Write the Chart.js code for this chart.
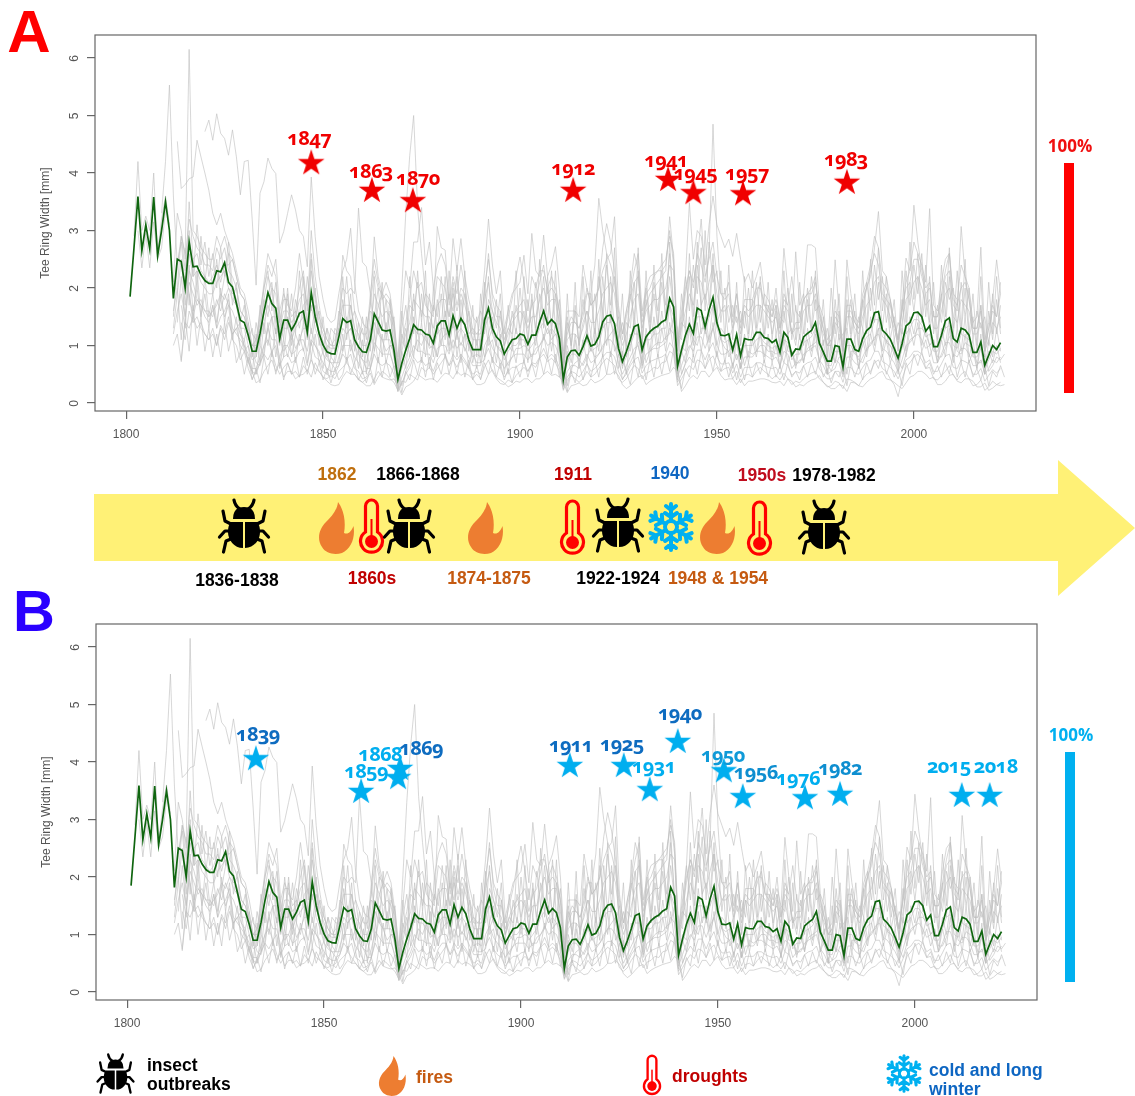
<!DOCTYPE html>
<html>
<head>
<meta charset="utf-8">
<title>Tree ring width</title>
<script src="https://cdn.jsdelivr.net/npm/chart.js@4"></script>
<style>
html, body { margin: 0; padding: 0; background: #fff; }
#page { position: relative; width: 1135px; height: 1096px; overflow: hidden; font-family: "Liberation Sans", Arial, sans-serif; }
canvas { position: absolute; }
.t { position: absolute; transform: translate(-50%, -50%); white-space: nowrap; font-weight: bold; font-size: 17.5px; }
.l { position: absolute; font-weight: bold; font-size: 17.5px; line-height: 19px; white-space: nowrap; }
.star-label { position: absolute; transform: translate(-50%, -50%); white-space: nowrap; font-family: "Open Sans", sans-serif; font-weight: 700; font-size: 20px; letter-spacing: -0.6px; font-feature-settings: "onum"; }
.pct { font-family: "Open Sans", sans-serif; font-size: 17px; }
svg.i { position: absolute; overflow: visible; }
</style>
</head>
<body>
<div id="page">
  <canvas id="chartA" width="1135" height="450" style="left:0;top:0"></canvas>
  <canvas id="chartB" width="1135" height="450" style="left:1px;top:589px"></canvas>

  <div class="t" style="left:29px;top:31px;font-size:60px;color:#ff0000">A</div>
  <div class="t" style="left:34px;top:610px;font-size:58px;color:#2a00ff">B</div>

  <svg class="i" style="left:0;top:0" width="1135" height="1096">
    <defs>
      <symbol id="bug" viewBox="0 0 50 56" overflow="visible">
        <g fill="none" stroke="#000" stroke-width="3.2" stroke-linecap="round" stroke-linejoin="round">
          <path d="M15 2 Q16 8 21 11"/><path d="M35 2 Q34 8 29 11"/>
          <path d="M12 26 L6 23 L4 13"/><path d="M38 26 L44 23 L46 13"/>
          <path d="M11 33 L6 33 L0.5 39"/><path d="M39 33 L44 33 L49.5 39"/>
          <path d="M12 41 L7 43 L4.5 54"/><path d="M38 41 L43 43 L45.5 54"/>
        </g>
        <path d="M14 21 Q14 9 25 9 Q36 9 36 21 Z" fill="#000"/>
        <path d="M12 24 H24 V50 C15 50 9 42 9 34 C9 29 10 26 12 24 Z" fill="#000"/>
        <path d="M38 24 H26 V50 C35 50 41 42 41 34 C41 29 40 26 38 24 Z" fill="#000"/>
      </symbol>
      <symbol id="fire" viewBox="0 0 36 52" overflow="visible">
        <path d="M20 0 C26 8 28 20 26 31 C30 33 33 30 35.5 24 C37.5 36 33 47 24 51 C17 53 8 52 4 45 C-2 36 2 26 8 20 C13 15 19 9 20 0 Z" fill="#ed7d31"/>
      </symbol>
      <symbol id="thermo" viewBox="0 0 25 56" overflow="visible">
        <path d="M6.5 7 a6 6 0 0 1 12 0 V33 a11 11 0 1 1 -12 0 Z" fill="none" stroke="#ff0000" stroke-width="3.2"/>
        <rect x="11.5" y="20" width="2" height="22" fill="#ff0000"/>
        <circle cx="12.5" cy="42.5" r="6.5" fill="#ff0000"/>
      </symbol>
      <symbol id="flake" viewBox="-22 -25 44 50" overflow="visible">
        <g fill="none" stroke="#00b0f0" stroke-width="4" stroke-linecap="round">
          <path id="a0" d="M0 -6 V-23 M0 -17 L-5 -21 M0 -17 L5 -21 M0 -10 L-6 -14 M0 -10 L6 -14"/>
          <use href="#a0" transform="rotate(60)"/><use href="#a0" transform="rotate(120)"/>
          <use href="#a0" transform="rotate(180)"/><use href="#a0" transform="rotate(240)"/>
          <use href="#a0" transform="rotate(300)"/>
          <circle r="6"/>
        </g>
      </symbol>
    </defs>
    <path d="M94 494 H1058 V460 L1135 528 L1058 596 V561 H94 Z" fill="#fff176"/>
    <use href="#bug" x="219" y="498" width="50" height="56"/>
    <use href="#fire" x="318" y="502" width="36" height="52"/>
    <use href="#thermo" x="359" y="499" width="25" height="56"/>
    <use href="#bug" x="384" y="498" width="50" height="56"/>
    <use href="#fire" x="467" y="502" width="36" height="52"/>
    <use href="#thermo" x="560" y="500" width="25" height="56"/>
    <use href="#bug" x="593" y="497" width="50" height="56"/>
    <use href="#flake" x="649" y="502" width="44" height="50"/>
    <use href="#fire" x="699" y="502" width="36" height="52"/>
    <use href="#thermo" x="747" y="501" width="25" height="56"/>
    <use href="#bug" x="799" y="499" width="50" height="56"/>
    <use href="#bug" x="97" y="1053" width="37" height="41"/>
    <use href="#fire" x="378" y="1056" width="28" height="40"/>
    <use href="#thermo" x="642" y="1055" width="20" height="41"/>
    <use href="#flake" x="887" y="1054" width="34" height="39"/>
  </svg>

  <div class="t" style="left:337px;top:474px;color:#bf6f0e">1862</div>
  <div class="t" style="left:418px;top:474px;color:#000">1866-1868</div>
  <div class="t" style="left:573px;top:474px;color:#c00000">1911</div>
  <div class="t" style="left:670px;top:473px;color:#0e66c2">1940</div>
  <div class="t" style="left:762px;top:475px;color:#c00d1e">1950s</div>
  <div class="t" style="left:834px;top:475px;color:#000">1978-1982</div>
  <div class="t" style="left:237px;top:580px;color:#000">1836-1838</div>
  <div class="t" style="left:372px;top:578px;color:#c00000">1860s</div>
  <div class="t" style="left:489px;top:578px;color:#c55a11">1874-1875</div>
  <div class="t" style="left:618px;top:578px;color:#000">1922-1924</div>
  <div class="t" style="left:718px;top:578px;color:#c55a11">1948 &amp; 1954</div>

  <div class="t pct" style="left:1070px;top:145px;color:#f01010">100%</div>
  <div style="position:absolute;left:1064px;top:163px;width:10px;height:230px;background:#ff0000"></div>
  <div class="t pct" style="left:1071px;top:734px;color:#00b0f0">100%</div>
  <div style="position:absolute;left:1065px;top:752px;width:10px;height:230px;background:#00b0f0"></div>

  <div class="l" style="left:147px;top:1056px;color:#000">insect<br>outbreaks</div>
  <div class="l" style="left:416px;top:1068px;color:#c55a11">fires</div>
  <div class="l" style="left:672px;top:1067px;color:#c00000">droughts</div>
  <div class="l" style="left:929px;top:1061px;color:#0e66c2">cold and long<br>winter</div>
</div>

<script>
// axis ticks
const xTicks = [1800, 1850, 1900, 1950, 2000];
const yTicks = [0, 1, 2, 3, 4, 5, 6];

// mean curve, one value per year from 1801
const meanStart = 1801;
const meanWidth = [
  1.85, 2.7, 3.59, 2.65, 3.1, 2.68, 3.58, 2.56, 3.0, 3.5,
  3.0, 1.82, 2.5, 2.46, 2.0, 2.8, 2.37, 2.38, 2.23, 2.13,
  2.08, 2.08, 2.3, 2.28, 2.44, 2.1, 2.02, 1.73, 1.44, 1.4,
  1.18, .9, .9, 1.21, 1.59, 1.92, 1.73, 1.65, 1.12, 1.44,
  1.44, 1.27, 1.39, 1.56, 1.6, 1.23, 1.92, 1.5, 1.21, 1.01,
  .89, .86, .85, 1.15, 1.47, 1.4, 1.43, 1.1, .98, .89,
  .88, 1.1, 1.55, 1.41, 1.27, 1.25, 1.27, .92, .41, .69,
  .92, 1.12, 1.36, 1.28, 1.27, 1.2, 1.18, 1.04, 1.34, 1.43,
  1.43, 1.18, 1.52, 1.3, 1.47, 1.36, 1.1, .93, .93, .93,
  1.44, 1.65, 1.3, 1.15, 1.08, .85, .98, 1.1, 1.12, 1.2,
  1.18, 1.02, 1.18, 1.18, 1.41, 1.6, 1.37, 1.45, 1.38, 1.12,
  .41, .8, .91, .92, .83, .98, 1.17, .99, 1.02, 1.15,
  1.41, 1.51, 1.53, 1.38, .95, .72, .89, 1.1, 1.33, 1.36,
  .92, 1.15, 1.24, 1.3, 1.34, 1.41, 1.45, 1.82, 1.67, .64,
  .92, 1.18, 1.37, 1.21, 1.65, 1.61, 1.32, 1.62, 1.84, 1.39,
  1.18, 1.17, 1.2, .92, 1.19, .82, 1.12, 1.1, 1.1, 1.23,
  1.23, 1.14, 1.12, 1.05, 1.1, .88, 1.23, 1.14, .83, .94,
  .93, 1.15, 1.21, 1.26, 1.4, 1.04, .89, .73, .73, 1.0,
  .98, .63, 1.11, 1.11, .93, .9, 1.12, 1.26, 1.32, 1.57,
  1.59, 1.27, 1.2, 1.11, .95, .78, 1.03, 1.34, 1.4, 1.57,
  1.58, 1.5, 1.25, 1.34, .98, .98, 1.18, 1.43, 1.48, 1.12,
  1.06, 1.3, 1.27, 1.18, .88, .88, 1.06, .66, .83, 1.0,
  .93, 1.05
];

// single trees, estimated from the grey lines: [first year, values]
const treeEarly1 = [1802, [
  2.9, 4.2, 3.0, 3.25, 3.0, 4.0, 2.6, 3.2, 3.6, 3.1]];
const treeEarly2 = [1803, [
  3.0, 2.35, 2.95, 2.35, 3.15, 2.5, 2.7, 3.35]];
const treeTall1 = [1809, [
  3.3, 4.2,
  5.53, 3.6, 2.4, 2.9, 2.6, 6.15, 3.0, 2.9, 2.7, 2.6,
  2.5, 2.5, 2.9, 2.7, 2.9, 2.6, 2.5, 2.2, 1.9, 1.8,
  1.4, 1.0, 1.0, 1.5, 2.1, 2.6, 2.4, 2.2, 1.4, 1.8,
  1.8, 1.5, 1.6, 2.0, 2.3, 1.6, 3.0, 2.2, 1.7, 1.3,
  1.1, 1.0, 1.0, 1.5, 2.0, 1.9, 2.0, 1.9, 3.39, 2.45,
  2.37, 1.9, 2.5, 2.1, 1.8, 1.9, 1.8, 1.3, .7, 2.0,
  3.3, 4.3, 5.0, 3.4, 2.6, 1.9, 1.8, 1.6, 2.2, 2.1,
  2.0, 1.5, 2.1, 1.7, 2.0, 1.9, 1.5, 1.2, 1.2, 1.2,
  1.9, 2.6, 1.8, 1.5, 1.5, 1.1, 1.3, 1.5, 1.6, 1.7,
  1.8, 1.4, 1.7, 1.8, 2.1, 2.4, 1.9, 2.0, 1.9, 1.6,
  .7, 1.2, 1.4, 1.4, 1.3, 1.5, 1.9, 1.9, 2.4, 3.56,
  3.0, 2.6, 2.4, 2.1, 1.5, 1.1, 1.5, 1.8, 2.1, 2.2,
  1.4, 1.7, 1.9, 2.0, 2.1, 2.2, 2.3, 3.24, 2.5, 1.0,
  1.4, 1.9, 2.3, 2.0, 2.6, 2.4, 2.1, 2.6, 4.85, 2.9,
  1.9, 1.9, 2.1, 1.5, 1.9, 1.3, 1.8, 1.8, 1.8, 2.0,
  2.0, 1.7, 1.7, 1.5, 1.7, 1.3, 1.8, 1.7, 1.2, 1.4,
  1.4, 1.8, 1.9, 1.9, 2.1, 1.6, 1.3, 1.0, 1.1, 1.5,
  1.4, .9, 1.6, 1.6, 1.4, 1.3, 1.8, 2.0, 2.2, 2.7,
  3.33, 2.3, 2.2, 1.8, 1.4, 1.1, 1.6, 2.1, 2.3, 3.44,
  2.8, 2.3, 2.0, 2.1, 1.5, 1.5, 1.9, 2.3, 2.6, 1.8,
  1.7, 2.0, 2.1, 1.8, 1.3, 1.3, 1.7, 1.0, 1.3, 1.7,
  1.5, 1.9]];
const treeTall2 = [1820, [
  4.72,
  4.92, 4.57, 5.03, 4.69, 4.6, 4.31, 4.75, 4.28, 3.62, 4.2,
  4.22, 3.2, 2.05, 3.65, 3.85, 4.26, 4.08, 3.99, 2.78, 2.98,
  3.3, 3.62, 3.36, 3.0, 2.9, 2.37, 3.93, 2.9, 2.2, 1.8,
  1.5, 1.4, 1.45, 1.9, 2.3, 2.5, 3.04, 2.1, 1.6, 1.4,
  1.3, 1.7, 2.3, 2.0, 1.9, 2.1, 1.9, 1.4, .8, 1.5,
  2.3, 2.0, 2.8, 2.8, 3.4, 2.4, 2.8, 2.0, 2.4, 2.6,
  2.4, 1.8, 2.86, 2.3, 2.86, 2.2, 1.8, 1.5, 1.4, 1.6,
  2.3, 3.2, 2.4, 1.9, 2.3, 1.3, 1.6, 1.9, 2.0, 2.1,
  2.57, 1.9, 2.95, 2.3, 2.2, 2.92, 2.2, 2.4, 2.72, 2.0,
  .9, 1.6, 1.6, 1.6, 1.5, 2.4, 2.0, 1.7, 1.8, 2.0,
  2.3, 2.5, 2.6, 3.24, 1.7, 1.2, 1.6, 1.9, 2.3, 2.6,
  1.6, 2.0, 2.2, 2.25, 2.3, 2.4, 2.5, 2.9, 2.6, 1.1,
  1.6, 2.2, 3.48, 2.5, 3.0, 2.9, 2.4, 3.1, 3.6, 3.1,
  2.9, 2.7, 2.85, 2.55, 2.95, 2.5, 2.1, 2.25, 2.0, 2.2,
  2.45, 1.9, 1.8, 1.6, 1.8, 1.5, 2.69, 2.0, 1.4, 2.63,
  1.7, 1.9, 2.75, 2.75, 2.7, 1.7, 1.5, 1.1, 1.2, 2.49,
  1.6, 1.0, 2.49, 1.9, 1.5, 1.4, 1.9, 2.1, 2.4, 2.9,
  2.7, 2.1, 2.0, 1.8, 1.4, 1.1, 1.7, 2.52, 2.3, 2.8,
  2.6, 2.4, 2.1, 3.38, 1.7, 1.6, 2.1, 2.5, 2.6, 1.9,
  1.8, 2.4, 2.2, 2.0, 1.4, 1.5, 2.71, 1.1, 1.4, 1.8,
  2.49, 1.9]];
const treeTall3 = [1813, [
  4.55, 3.73, 3.8, 3.9, 3.93, 4.57, 4.28, 4.0,
  3.7, 3.3, 3.1, 3.3, 3.0, 2.8, 2.6, 2.3, 2.0, 1.9,
  1.6, 1.2, 1.1, 1.6, 2.0, 2.4, 2.2, 2.5, 1.6, 1.9,
  1.7, 1.6, 2.0, 2.6, 2.1, 1.7, 2.6, 1.9, 1.5, 1.3,
  1.1, 1.0, 1.1, 1.4, 2.57, 2.3, 2.2, 1.6, 1.4, 1.2,
  1.2, 1.7, 2.89, 2.2, 1.9, 1.8, 1.7, 1.2, .6, 1.1,
  1.4, 1.8, 2.3, 2.0, 2.1, 1.7, 1.6, 1.5, 3.07, 2.7,
  2.66, 1.7, 2.2, 1.9, 2.4, 2.0, 1.6, 1.3, 1.2, 1.3,
  2.0, 2.5, 1.9, 1.7, 1.6, 1.2, 1.5, 1.8, 2.2, 2.54,
  2.1, 1.6, 2.2, 2.0, 2.3, 2.3, 2.0, 2.2, 2.0, 1.6,
  .7, 1.3, 1.5, 1.4, 1.3, 1.6, 2.0, 1.7, 1.8, 2.0,
  2.7, 3.12, 2.8, 2.3, 1.6, 1.2, 1.6, 2.0, 2.6, 2.3,
  1.5, 1.9, 2.0, 2.2, 2.3, 2.3, 2.4, 3.0, 2.4, 1.0,
  1.5, 2.0, 2.3, 2.1, 2.5, 3.2, 2.2, 2.5, 2.8, 2.2,
  1.9, 1.8, 1.9, 1.4, 1.9, 1.4, 1.7, 1.6, 1.7, 1.9,
  2.1, 1.7, 1.6, 1.5, 2.0, 1.3, 1.9, 1.7, 2.2, 1.6,
  1.5, 1.8, 1.9, 2.0, 2.2, 1.5, 1.3, 1.0, 1.1, 1.6,
  1.5, .9, 1.7, 1.7, 1.4, 1.3, 1.7, 2.0, 2.3, 2.6,
  2.4, 1.9, 1.8, 1.7, 1.4, 1.1, 1.6, 2.0, 2.1, 2.5,
  2.5, 2.2, 1.9, 2.0, 1.5, 1.5, 1.8, 2.2, 2.3, 1.7,
  1.6, 3.07, 2.2, 1.8, 1.3, 1.3, 1.6, .9, 1.3, 1.6,
  1.5, 2.1]];
const treeUpper1 = [1812, [
  2.1, 3.3, 3.0, 2.5, 3.2, 2.9, 2.7, 2.6, 2.4,
  2.4, 2.3, 2.7, 2.5, 2.7, 2.3, 2.2, 2.0, 1.6, 1.5,
  1.3, 1.0, .95, 1.4, 1.8, 2.2, 2.0, 1.9, 1.3, 1.6,
  1.6, 1.4, 1.5, 1.8, 1.9, 1.4, 2.3, 1.8, 1.4, 1.2,
  1.0, .95, .95, 1.3, 1.7, 1.7, 1.7, 1.3, 1.2, 1.0,
  1.0, 1.3, 1.9, 1.7, 1.5, 1.6, 1.5, 1.1, .5, .9,
  1.2, 1.4, 1.8, 1.7, 1.6, 1.5, 1.5, 1.3, 1.7, 1.8,
  1.8, 1.5, 1.9, 1.6, 1.9, 1.7, 1.4, 1.1, 1.1, 1.1,
  1.8, 2.1, 1.6, 1.4, 1.3, 1.0, 1.2, 1.4, 1.5, 1.6,
  1.5, 1.3, 1.5, 1.5, 1.8, 2.0, 1.7, 1.8, 1.8, 1.4,
  .6, 1.1, 1.2, 1.2, 1.1, 1.3, 1.6, 1.4, 1.4, 1.6,
  1.9, 2.0, 2.1, 1.9, 1.3, 1.0, 1.2, 1.5, 1.8, 1.9,
  1.3, 1.6, 1.7, 1.8, 1.8, 1.9, 2.0, 2.4, 2.3, .9,
  1.3, 1.6, 1.9, 1.7, 2.2, 2.1, 1.8, 2.1, 2.4, 1.9,
  1.6, 1.6, 1.7, 1.3, 1.7, 1.2, 1.6, 1.5, 1.6, 1.7,
  1.7, 1.6, 1.5, 1.4, 1.5, 1.2, 1.7, 1.6, 1.2, 1.3,
  1.3, 1.6, 1.7, 1.7, 1.9, 1.4, 1.2, 1.0, 1.0, 1.4,
  1.3, .9, 1.5, 1.5, 1.3, 1.2, 1.5, 1.7, 1.8, 2.1,
  2.2, 1.8, 1.7, 1.5, 1.3, 1.0, 1.4, 1.8, 1.9, 2.1,
  2.2, 2.0, 1.7, 1.8, 1.3, 1.3, 1.6, 1.9, 2.0, 1.5,
  1.4, 1.8, 1.7, 1.6, 1.2, 1.2, 1.4, .9, 1.1, 1.4,
  1.3, 1.5]];
const treeUpper2 = [1812, [
  1.5, 2.4, 2.8, 2.0, 3.5, 2.5, 2.6, 2.3, 2.2,
  2.1, 2.2, 2.4, 2.1, 2.4, 2.4, 2.5, 2.2, 1.9, 1.8,
  1.2, 1.0, 1.1, 1.3, 2.0, 2.3, 1.6, 2.1, 1.4, 1.3,
  2.0, 1.2, 1.8, 1.5, 2.2, 1.2, 2.5, 1.4, 1.6, 1.0,
  1.3, 1.1, .9, 1.6, 1.5, 2.2, 1.4, 1.6, 1.1, 1.3,
  .9, 1.6, 1.5, 2.0, 1.3, 1.8, 1.2, 1.5, .6, 1.2,
  .9, 1.7, 1.6, 2.1, 1.5, 1.9, 1.2, 1.7, 1.5, 2.2,
  1.5, 1.9, 1.6, 2.2, 1.4, 1.9, 1.2, 1.3, 1.0, 1.6,
  1.4, 2.2, 1.2, 1.8, 1.1, 1.3, 1.0, 1.6, 1.2, 2.0,
  1.3, 1.8, 1.3, 2.1, 1.5, 2.2, 1.4, 2.3, 1.3, 1.8,
  .7, 1.5, 1.0, 1.7, 1.0, 1.8, 1.3, 1.9, 1.2, 2.2,
  1.6, 2.4, 1.7, 2.2, 1.1, 1.4, 1.0, 1.9, 1.5, 2.3,
  1.1, 2.0, 1.4, 2.1, 1.6, 2.3, 1.7, 2.6, 1.7, 1.2,
  1.1, 2.2, 1.6, 2.4, 1.9, 2.7, 1.6, 2.8, 2.1, 2.3,
  1.4, 2.0, 1.4, 1.7, 1.4, 1.6, 1.3, 2.0, 1.3, 2.1,
  1.4, 1.9, 1.3, 1.8, 1.2, 1.5, 1.4, 2.0, 1.1, 1.7,
  1.1, 1.9, 1.4, 2.2, 1.6, 1.7, 1.0, 1.3, .9, 1.8,
  1.1, 1.2, 1.3, 1.8, 1.1, 1.5, 1.3, 2.1, 1.6, 2.4,
  1.8, 2.2, 1.4, 1.8, 1.1, 1.4, 1.2, 2.3, 1.7, 2.4,
  1.9, 2.6, 1.5, 2.2, 1.2, 1.7, 1.4, 2.1, 1.8, 2.0,
  1.3, 2.1, 1.5, 2.0, 1.1, 1.6, 1.3, 1.5, 1.0, 1.9,
  1.2, 1.7]];
const treeUpper3 = [1813, [
  2.0, 2.9, 2.3, 3.0, 2.2, 3.1, 2.4, 2.8,
  2.2, 2.6, 2.0, 2.7, 2.2, 2.8, 2.0, 1.8, 1.4, 1.7,
  1.1, 1.3, .8, 1.7, 1.2, 1.9, 2.1, 1.4, 1.1, 2.0,
  1.3, 1.9, 1.2, 2.3, 1.4, 2.2, 1.6, 2.0, 1.0, 1.5,
  .8, 1.3, 1.2, 1.2, 2.2, 1.3, 1.9, .9, 1.4, .8,
  1.5, .9, 2.2, 1.2, 2.1, 1.1, 1.6, 1.4, .5, 1.6,
  .9, 2.2, 1.2, 2.3, 1.4, 2.3, 1.0, 2.0, 1.2, 1.9,
  1.1, 2.3, 1.3, 2.4, 1.3, 2.3, .9, 1.7, .8, 1.9,
  1.2, 1.8, 1.6, 1.3, 1.9, .9, 1.7, 1.0, 2.3, 1.1,
  2.2, 1.0, 1.9, 1.2, 2.5, 1.3, 2.2, 1.2, 2.3, 1.1,
  .6, 1.9, .9, 2.1, .9, 2.2, 1.1, 2.3, 1.0, 2.5,
  1.3, 2.6, 1.4, 2.7, 1.0, 1.9, .8, 2.3, 1.2, 2.7,
  1.0, 2.3, 1.2, 2.4, 1.3, 2.6, 1.4, 2.8, 1.5, .9,
  1.9, 1.2, 2.6, 1.5, 2.8, 1.6, 3.0, 1.7, 2.6, 1.5,
  2.3, 1.1, 2.4, 1.1, 2.1, 1.0, 2.2, 1.2, 2.3, 1.3,
  2.2, 1.2, 2.1, 1.1, 1.7, 1.0, 2.3, 1.1, 1.9, 1.1,
  2.1, 1.2, 2.0, 1.3, 2.3, 1.1, 1.8, .8, 2.0, 1.2,
  1.9, .8, 2.2, 1.2, 1.9, 1.0, 2.3, 1.3, 2.5, 1.7,
  2.7, 1.6, 2.2, 1.3, 1.8, .9, 2.3, 1.4, 2.8, 1.8,
  2.6, 1.5, 2.4, 1.4, 2.1, 1.1, 2.4, 1.5, 2.7, 1.3,
  2.3, 1.3, 2.5, 1.2, 1.9, 1.0, 2.2, .9, 2.1, 1.2,
  2.2, 1.3]];
const treeUpper4 = [1815, [
  2.7, 1.7, 2.5, 2.0, 2.9, 2.1,
  2.7, 1.9, 2.5, 1.8, 2.2, 2.6, 1.7, 2.1, 1.2, 1.1,
  1.4, .8, 1.4, 1.0, 1.8, 1.5, 2.0, 1.2, 1.6, 1.1,
  1.9, 1.0, 1.6, 1.3, 1.7, 1.8, 1.2, 1.7, 1.2, .9,
  1.3, .8, 1.3, 1.2, 1.8, 1.1, 1.7, 1.3, .9, 1.5,
  1.1, 1.9, 1.2, 1.7, 1.9, 1.2, 1.8, .8, .4, 1.3,
  1.7, 1.1, 1.9, 1.2, 1.9, 1.2, 1.9, 1.1, 1.8, 1.3,
  2.2, 1.2, 2.0, 1.1, 1.8, 1.3, 1.6, 1.0, 1.5, .9,
  2.1, 1.2, 1.5, 1.0, 1.6, 1.0, 1.3, 1.2, 1.7, 1.3,
  1.6, 1.1, 1.8, 1.3, 1.9, 1.4, 2.0, 1.3, 1.9, .9,
  .5, 1.4, 1.0, 1.6, 1.0, 1.4, 1.6, 1.2, 1.9, 1.2,
  2.2, 1.4, 2.2, 1.2, 1.5, .8, 1.4, 1.3, 2.1, 1.3,
  1.0, 1.8, 1.2, 1.9, 1.3, 2.1, 1.5, 2.2, 1.6, .7,
  1.4, 1.3, 2.2, 1.3, 2.4, 1.7, 1.9, 1.5, 2.4, 1.4,
  1.6, 1.7, 1.1, 1.3, 1.5, 1.0, 1.6, 1.1, 1.8, 1.2,
  1.7, 1.1, 1.7, 1.2, 1.6, .9, 1.6, 1.2, 1.3, 1.0,
  1.6, 1.0, 1.8, 1.2, 1.8, 1.0, 1.5, .7, 1.5, 1.0,
  1.6, .7, 1.8, 1.1, 1.6, .9, 1.8, 1.2, 2.0, 1.4,
  2.1, 1.3, 1.9, 1.1, 1.5, .9, 1.8, 1.2, 2.1, 1.6,
  2.2, 1.4, 1.9, 1.3, 1.6, 1.0, 1.9, 1.3, 2.2, 1.2,
  1.8, 1.2, 2.0, 1.1, 1.5, .9, 1.7, .8, 1.6, 1.1,
  1.8, 1.2]];
const treeMid1 = [1812, [
  1.3, 1.9, 2.5, 1.7, 2.6, 2.2, 2.3, 2.1, 2.0,
  1.9, 1.9, 2.1, 2.2, 2.3, 2.0, 1.8, 1.7, 1.3, 1.3,
  1.0, .75, .8, 1.1, 1.4, 1.7, 1.5, 1.5, 1.0, 1.3,
  1.3, 1.1, 1.3, 1.4, 1.5, 1.1, 1.7, 1.3, 1.1, .85,
  .75, .7, .7, 1.0, 1.3, 1.2, 1.3, 1.0, .85, .75,
  .7, 1.0, 1.4, 1.2, 1.1, 1.1, 1.1, .8, .35, .6,
  .8, 1.0, 1.3, 1.2, 1.2, 1.1, 1.0, .95, 1.2, 1.3,
  1.3, 1.0, 1.4, 1.2, 1.3, 1.2, 1.0, .8, .85, .8,
  1.3, 1.5, 1.2, 1.0, .95, .75, .9, 1.0, 1.0, 1.1,
  1.1, .9, 1.0, 1.1, 1.3, 1.4, 1.2, 1.3, 1.2, 1.0,
  .35, .7, .85, .85, .75, .9, 1.1, .9, .95, 1.0,
  1.3, 1.4, 1.4, 1.2, .85, .65, .8, 1.0, 1.2, 1.2,
  .85, 1.1, 1.1, 1.2, 1.2, 1.3, 1.3, 1.7, 1.5, .6,
  .85, 1.1, 1.3, 1.1, 1.5, 1.5, 1.2, 1.5, 1.7, 1.3,
  1.1, 1.05, 1.1, .85, 1.1, .75, 1.0, 1.0, 1.0, 1.1,
  1.15, 1.05, 1.0, .95, 1.0, .8, 1.1, 1.05, .75, .85,
  .85, 1.05, 1.1, 1.15, 1.3, .95, .8, .65, .65, .9,
  .9, .55, 1.0, 1.0, .85, .8, 1.0, 1.15, 1.2, 1.45,
  1.45, 1.15, 1.1, 1.0, .85, .7, .95, 1.2, 1.3, 1.45,
  1.45, 1.35, 1.15, 1.2, .9, .9, 1.1, 1.3, 1.35, 1.0,
  .95, 1.2, 1.15, 1.1, .8, .8, .95, .6, .75, .9,
  .85, .95]];
const treeMid2 = [1814, [
  1.7, 1.3, 2.3, 2.1, 1.8, 1.7, 1.6, 1.5,
  1.6, 1.7, 1.9, 1.8, 2.0, 1.9, 2.0, 1.6, 1.5, 1.2,
  .95, .7, .65, .9, 1.3, 1.5, 1.2, 1.3, .9, 1.0,
  1.2, .95, 1.1, 1.3, 1.3, 1.0, 1.5, 1.2, 1.0, .8,
  .7, .6, .65, .9, 1.2, 1.3, 1.1, .95, .75, .6,
  .6, .9, 1.3, 1.1, .9, 1.0, 1.0, .7, .3, .55,
  .7, .9, 1.1, 1.0, 1.2, .95, 1.0, .8, 1.1, 1.2,
  1.2, .95, 1.2, 1.0, 1.2, 1.1, .85, .7, .7, .75,
  1.1, 1.3, 1.0, .9, .85, .65, .8, .95, .95, 1.0,
  .95, .8, .95, 1.0, 1.1, 1.3, 1.1, 1.2, 1.1, .9,
  .3, .6, .7, .75, .65, .8, .95, .8, .85, .95,
  1.1, 1.2, 1.3, 1.1, .75, .55, .7, .85, 1.05, 1.1,
  .7, .9, 1.0, 1.05, 1.05, 1.15, 1.2, 1.5, 1.3, .5,
  .7, .95, 1.1, 1.0, 1.3, 1.3, 1.05, 1.3, 1.5, 1.1,
  .95, .9, 1.0, .75, .95, .65, .9, .85, .9, 1.0,
  1.0, .9, .9, .85, .9, .7, 1.0, .9, .65, .75,
  .75, .95, 1.0, 1.05, 1.15, .85, .7, .55, .6, .8,
  .8, .5, .9, .9, .75, .7, .9, 1.05, 1.1, 1.3,
  1.3, 1.05, 1.0, .9, .75, .6, .85, 1.1, 1.15, 1.3,
  1.3, 1.2, 1.0, 1.1, .8, .8, .95, 1.15, 1.2, .9,
  .85, 1.05, 1.0, .95, .7, .7, .85, .55, .65, .8,
  .75, .85]];
const treeMid3 = [1812, [
  1.2, 1.6, 1.9, 1.5, 2.1, 1.9, 1.7, 1.8, 1.6,
  1.6, 1.5, 1.8, 1.6, 1.9, 1.7, 1.6, 1.4, 1.2, 1.0,
  .85, .6, .6, .8, 1.0, 1.3, 1.1, 1.1, .8, 1.0,
  1.0, .85, .9, 1.1, 1.1, .9, 1.3, 1.0, .85, .7,
  .6, .55, .55, .8, 1.0, 1.0, 1.0, .8, .7, .55,
  .55, .75, 1.05, .95, .85, .85, .85, .65, .25, .45,
  .65, .8, 1.0, .9, .9, .85, .85, .7, .95, 1.0,
  1.0, .85, 1.1, .95, 1.05, .95, .8, .65, .65, .65,
  1.0, 1.15, .95, .85, .75, .6, .7, .8, .85, .85,
  .85, .75, .85, .85, 1.0, 1.15, 1.0, 1.05, 1.0, .8,
  .28, .55, .65, .65, .6, .7, .85, .7, .75, .85,
  1.0, 1.1, 1.1, 1.0, .7, .5, .65, .8, .95, 1.0,
  .65, .85, .9, .95, .95, 1.0, 1.05, 1.3, 1.2, .45,
  .65, .85, 1.0, .9, 1.15, 1.15, .95, 1.15, 1.3, 1.0,
  .85, .85, .9, .65, .85, .6, .8, .8, .8, .9,
  .9, .85, .8, .75, .8, .65, .9, .85, .6, .7,
  .7, .85, .9, .95, 1.0, .75, .65, .5, .55, .75,
  .7, .45, .8, .8, .7, .65, .8, .95, 1.0, 1.15,
  1.2, .95, .9, .8, .7, .55, .75, 1.0, 1.05, 1.15,
  1.2, 1.1, .95, 1.0, .7, .7, .85, 1.05, 1.05, .85,
  .8, .95, .95, .85, .65, .65, .75, .5, .6, .75,
  .7, .8]];
const treeMid4 = [1813, [
  1.4, 2.2, 1.5, 2.4, 1.6, 2.0, 1.5, 2.2,
  1.5, 1.9, 1.4, 1.8, 1.5, 1.7, 1.1, 1.5, .9, 1.1,
  .7, .9, .5, 1.0, .8, 1.4, .8, 1.3, .6, 1.1,
  .8, 1.2, .7, 1.2, .9, 1.3, .8, 1.2, .7, .9,
  .5, .8, .7, .7, 1.2, .7, 1.1, .7, .9, .5,
  .9, .6, 1.2, .7, 1.2, .7, 1.0, .9, .3, .9,
  .6, 1.2, .8, 1.3, .7, 1.2, .6, 1.1, .8, 1.3,
  .8, 1.2, .8, 1.3, .7, 1.2, .6, 1.0, .6, 1.1,
  .8, 1.2, .7, 1.1, .6, .9, .5, 1.0, .7, 1.2,
  .7, 1.1, .7, 1.2, .8, 1.2, .8, 1.3, .7, 1.1,
  .3, .9, .5, 1.1, .6, 1.1, .7, 1.2, .7, 1.3,
  .8, 1.4, .8, 1.3, .6, .9, .5, 1.2, .7, 1.3,
  .6, 1.2, .7, 1.3, .8, 1.3, .9, 1.4, .9, .4,
  .9, .7, 1.3, .8, 1.4, .9, 1.3, .9, 1.4, .8,
  1.2, .7, 1.1, .6, 1.1, .6, 1.1, .7, 1.1, .8,
  1.2, .7, 1.1, .7, 1.0, .6, 1.1, .7, .9, .6,
  1.0, .7, 1.1, .8, 1.2, .7, .9, .5, .9, .7,
  1.0, .5, 1.1, .7, 1.0, .6, 1.1, .8, 1.2, .9,
  1.3, .8, 1.1, .7, .9, .5, 1.1, .8, 1.3, 1.0,
  1.4, .9, 1.1, .8, 1.0, .7, 1.1, .8, 1.3, .7,
  1.1, .7, 1.2, .7, .9, .6, 1.0, .5, .9, .7,
  1.0, .7]];
const treeMid5 = [1816, [
  1.9, 1.4, 2.3, 1.5, 1.9,
  1.3, 1.7, 1.3, 2.0, 1.4, 1.9, 1.2, 1.3, 1.4, .9,
  1.0, .5, 1.2, .7, 1.4, 1.0, 1.5, .8, 1.2, .8,
  1.5, .8, 1.2, 1.0, 1.4, .7, 1.1, 1.0, .9, .6,
  1.0, .5, .8, 1.3, .9, 1.5, .9, 1.1, .6, 1.1,
  .5, 1.3, .9, 1.5, .8, 1.4, .9, .6, .2, 1.0,
  1.3, .8, 1.5, .9, 1.4, .8, 1.4, .8, 1.4, 1.0,
  1.6, .9, 1.5, .8, 1.3, .9, 1.1, .7, 1.1, .7,
  1.5, 1.0, 1.1, .7, 1.2, .5, 1.0, .9, 1.3, 1.0,
  1.3, .7, 1.3, 1.0, 1.5, 1.1, 1.5, .9, 1.4, .7,
  .3, 1.0, .7, 1.2, .7, 1.1, 1.3, .9, 1.3, .9,
  1.6, 1.0, 1.6, .9, 1.1, .6, 1.0, .9, 1.5, 1.0,
  .7, 1.3, .9, 1.5, 1.0, 1.6, 1.1, 1.7, 1.2, .5,
  1.0, .9, 1.5, 1.0, 1.8, 1.2, 1.5, 1.1, 1.7, 1.0,
  1.3, 1.2, .8, .9, 1.1, .6, 1.2, .8, 1.3, .9,
  1.3, .8, 1.2, .8, 1.2, .6, 1.2, .9, .9, .7,
  1.2, .7, 1.3, .9, 1.3, .7, 1.1, .5, 1.1, .7,
  1.2, .5, 1.3, .8, 1.1, .6, 1.3, .9, 1.5, 1.0,
  1.5, .9, 1.3, .8, 1.1, .6, 1.3, .9, 1.5, 1.2,
  1.6, 1.0, 1.3, 1.0, 1.1, .7, 1.3, 1.0, 1.5, .8,
  1.3, .9, 1.5, .8, 1.1, .6, 1.2, .5, 1.1, .8,
  1.3, .9]];
const treeLow1 = [1812, [
  1.0, 1.2, .72, 1.4, 1.3, 1.5, 1.3, 1.4, 1.2,
  1.1, 1.3, 1.0, 1.35, 1.2, 1.5, 1.1, 1.0, .75, .9,
  .6, .42, .55, .7, .85, .75, .9, .65, .5, .62,
  .7, .5, .55, .45, .65, .55, .75, .6, .55, .45,
  .42, .5, .42, .55, .62, .7, .6, .5, .4, .36,
  .42, .52, .32, .45, .55, .5, .42, .36, .22, .38,
  .36, .5, .45, .4, .62, .55, .62, .5, .6, .7,
  .8, .65, .75, .62, .8, .7, .6, .42, .5, .42,
  .62, .75, .55, .42, .34, .32, .4, .36, .48, .55,
  .62, .55, .68, .62, .78, .85, .72, .78, .7, .55,
  .22, .4, .48, .42, .36, .42, .55, .45, .5, .6,
  .7, .78, .72, .65, .42, .36, .42, .55, .65, .6,
  .42, .52, .55, .62, .6, .7, .72, .9, .85, .3,
  .42, .55, .65, .58, .75, .72, .6, .75, .82, .65,
  .55, .6, .62, .42, .55, .35, .48, .5, .45, .55,
  .62, .55, .5, .42, .48, .4, .52, .42, .32, .38,
  .35, .42, .48, .52, .55, .42, .36, .28, .3, .38,
  .35, .25, .42, .4, .36, .3, .42, .5, .55, .7,
  .75, .6, .55, .42, .32, .11, .42, .62, .7, .8,
  .85, .75, .6, .62, .42, .4, .48, .55, .65, .48,
  .4, .5, .55, .42, .3, .32, .4, .22, .28, .38,
  .32, .36]];
const treeLow2 = [1814, [
  1.4, 1.1, 1.6, 1.4, 1.5, 1.3, 1.2, 1.1,
  1.2, 1.0, 1.3, 1.1, 1.4, 1.2, 1.3, 1.0, .9, .75,
  .55, .35, .4, .55, .65, .75, .55, .7, .45, .55,
  .55, .42, .48, .5, .58, .45, .7, .55, .45, .38,
  .32, .3, .32, .45, .55, .5, .5, .42, .36, .3,
  .3, .42, .55, .45, .42, .4, .42, .3, .14, .28,
  .32, .38, .5, .45, .4, .42, .42, .36, .45, .52,
  .5, .42, .55, .48, .52, .48, .42, .32, .32, .35,
  .5, .58, .45, .4, .35, .28, .32, .38, .36, .42,
  .42, .35, .42, .42, .5, .55, .48, .5, .45, .38,
  .18, .3, .32, .35, .3, .32, .42, .35, .38, .42,
  .5, .5, .55, .48, .32, .25, .3, .38, .45, .48,
  .32, .38, .42, .45, .48, .5, .52, .62, .55, .2,
  .3, .42, .48, .42, .55, .55, .45, .55, .62, .48,
  .4, .42, .42, .32, .42, .3, .38, .38, .4, .42,
  .42, .4, .36, .35, .38, .3, .42, .38, .28, .32,
  .3, .36, .4, .42, .48, .36, .3, .25, .25, .32,
  .3, .2, .36, .35, .3, .28, .36, .42, .45, .52,
  .55, .42, .4, .36, .3, .25, .35, .45, .48, .55,
  .55, .5, .42, .45, .32, .32, .38, .48, .5, .38,
  .35, .42, .42, .38, .28, .28, .35, .22, .26, .32,
  .3, .32]];
const treeLow3 = [1812, [
  1.6, 2.0, 1.1, 2.2, 1.9, 1.5, 1.8, 1.7, 1.5,
  1.4, 1.7, 1.3, 1.5, 1.6, 1.8, 1.3, 1.2, 1.1, 1.0,
  .7, .55, .5, .7, 1.0, 1.1, .9, 1.0, .65, .8,
  .85, .7, .75, .9, .95, .65, 1.05, .8, .75, .55,
  .5, .45, .5, .65, .85, .75, .85, .6, .55, .42,
  .45, .6, .85, .7, .65, .7, .65, .5, .2, .35,
  .5, .62, .8, .7, .75, .65, .7, .55, .75, .85,
  .85, .65, .85, .75, .85, .75, .62, .5, .55, .5,
  .8, .95, .75, .65, .6, .45, .55, .62, .62, .68,
  .7, .55, .7, .68, .8, .95, .78, .85, .78, .62,
  .24, .45, .55, .52, .45, .55, .68, .55, .6, .68,
  .8, .88, .88, .8, .55, .42, .5, .65, .75, .8,
  .52, .65, .72, .75, .78, .8, .85, 1.05, .95, .36,
  .5, .68, .8, .7, .92, .92, .75, .92, 1.05, .8,
  .68, .68, .7, .52, .68, .45, .62, .62, .62, .7,
  .7, .65, .62, .6, .62, .5, .7, .65, .48, .55,
  .52, .65, .7, .72, .8, .6, .5, .42, .42, .55,
  .55, .36, .62, .62, .52, .5, .62, .72, .75, .9,
  .9, .72, .68, .62, .55, .42, .58, .75, .8, .9,
  .9, .85, .7, .75, .55, .55, .68, .82, .85, .62,
  .6, .75, .72, .68, .5, .5, .6, .38, .48, .58,
  .52, .6]];
const treeLow4 = [1814, [
  .75, 1.5, .9, 1.7, 1.0, 1.5, .9, 1.3,
  .8, 1.2, .8, 1.4, .9, 1.2, .7, .9, .5, .8,
  .4, .6, .35, .8, .5, .9, .5, .8, .4, .7,
  .5, .8, .45, .8, .5, .8, .5, .7, .4, .6,
  .35, .6, .4, .5, .8, .5, .7, .4, .55, .35,
  .6, .35, .8, .45, .75, .45, .65, .55, .18, .55,
  .4, .75, .5, .8, .45, .8, .4, .7, .5, .85,
  .5, .8, .5, .85, .45, .75, .4, .65, .4, .7,
  .5, .8, .45, .7, .4, .6, .35, .65, .45, .75,
  .45, .7, .45, .8, .5, .8, .5, .85, .45, .7,
  .2, .55, .35, .7, .4, .7, .45, .75, .45, .85,
  .5, .9, .5, .85, .4, .55, .32, .75, .45, .85,
  .4, .75, .45, .85, .5, .85, .55, .95, .6, .25,
  .6, .45, .85, .5, .9, .6, .85, .55, .9, .55,
  .75, .45, .7, .4, .7, .4, .7, .45, .7, .5,
  .75, .45, .7, .45, .65, .4, .7, .45, .55, .4,
  .65, .45, .7, .5, .75, .45, .6, .35, .55, .45,
  .65, .3, .7, .45, .65, .4, .7, .5, .75, .6,
  .85, .5, .7, .45, .6, .3, .7, .5, .85, .65,
  .9, .6, .7, .5, .65, .45, .7, .5, .85, .45,
  .7, .45, .75, .45, .6, .4, .65, .3, .55, .45,
  .65, .45]];
const treeLines = [treeEarly1, treeEarly2, treeTall1, treeTall2, treeTall3, treeUpper1, treeUpper2, treeUpper3, treeUpper4,
  treeMid1, treeMid2, treeMid3, treeMid4, treeMid5, treeLow1, treeLow2, treeLow3, treeLow4];

// panel A, severe growth events: [label, star position]
const droughtLabels = ['1847', '1863', '1870', '1912', '1941', '1945', '1957', '1983'];
const droughtX = [1847, 1862.4, 1872.8, 1913.5, 1937.6, 1944, 1956.6, 1983];
const droughtY = [4.17, 3.69, 3.51, 3.69, 3.88, 3.65, 3.63, 3.83];

// panel B
const coldLabels = ['1839', '1859', '1868', '1869', '1911', '1925', '1931', '1940', '1950', '1956', '1976', '1982', '2015', '2018'];
const coldX = [1832.7, 1859.4, 1868.8, 1869.3, 1912.4, 1926.1, 1932.7, 1939.8, 1951.5, 1956.3, 1972.1, 1981, 2011.9, 2019];
const coldY = [4.05, 3.48, 3.72, 3.88, 3.93, 3.93, 3.51, 4.35, 3.84, 3.39, 3.37, 3.43, 3.41, 3.41];

// label placement next to each star, px
const droughtNudge = [[-2, -26], [-1, -21], [5, -24], [0, -24], [-2, -21], [2, -21], [4, -22], [-1, -25]];
const coldNudge = [[2, -26], [5, -22], [-18, -25], [21, -22], [1, -22], [-2, -23], [4, -25], [2, -30], [-1, -17], [13, -26], [-7, -21], [0, -28], [-13, -31], [6, -31]];
const droughtColors = droughtLabels.map(() => '#f00000');
const coldColors = ['#0e6cc0', '#00aeef', '#00aeef', '#0e6cc0', '#0e6cc0', '#0e6cc0', '#00aeef', '#0e6cc0', '#0f9ad8', '#0e8ed0', '#00aeef', '#0e8ed0', '#00aeef', '#00aeef'];

function starImage(color) {
  const c = document.createElement('canvas');
  c.width = 30; c.height = 30;
  const g = c.getContext('2d');
  g.fillStyle = color;
  g.beginPath();
  for (let i = 0; i < 10; i++) {
    const r = i % 2 ? 5.4 : 14;
    const a = -Math.PI / 2 + i * Math.PI / 5;
    g.lineTo(15 + r * Math.cos(a), 15 + r * Math.sin(a));
  }
  g.closePath();
  g.fill();
  return c;
}

function toPoints(start, values) {
  return values.map((v, i) => ({ x: start + i, y: v }));
}

// box round the plot, and the star labels as real text on top
const panelPlugin = {
  id: 'panel',
  afterDraw(chart, args, opts) {
    const a = chart.chartArea, ctx = chart.ctx;
    ctx.save();
    ctx.strokeStyle = '#666';
    ctx.lineWidth = 1.2;
    ctx.strokeRect(a.left, a.top, a.right - a.left, a.bottom - a.top);
    ctx.restore();
    const page = document.getElementById('page');
    opts.labels.forEach((txt, i) => {
      const s = document.createElement('div');
      s.className = 'star-label';
      s.textContent = txt;
      s.style.color = opts.colors[i];
      const px = chart.scales.x.getPixelForValue(opts.xs[i]) + chart.canvas.offsetLeft;
      const py = chart.scales.y.getPixelForValue(opts.ys[i]) + chart.canvas.offsetTop;
      s.style.left = (px + opts.nudge[i][0]) + 'px';
      s.style.top = (py + opts.nudge[i][1]) + 'px';
      page.appendChild(s);
    });
  }
};

function makePanel(id, labels, xs, ys, nudge, colors, starColor) {
  const star = starImage(starColor);
  const datasets = [
    { data: xs.map((x, i) => ({ x: x, y: ys[i] })), showLine: false, pointStyle: star, pointRadius: 12 },
    { data: toPoints(meanStart, meanWidth), showLine: true, borderColor: '#0f650f', borderWidth: 1.7, pointRadius: 0, tension: 0 }
  ];
  treeLines.forEach(t => {
    datasets.push({ data: toPoints(t[0], t[1]), showLine: true, borderColor: 'rgba(190,190,190,0.62)', borderWidth: 1, pointRadius: 0, tension: 0 });
  });
  return new Chart(document.getElementById(id), {
    type: 'scatter',
    data: { datasets: datasets },
    plugins: [panelPlugin],
    options: {
      responsive: false,
      animation: false,
      layout: { padding: { left: 0, top: 35, right: 99, bottom: 0 } },
      plugins: {
        legend: { display: false },
        tooltip: { enabled: false },
        panel: { labels: labels, xs: xs, ys: ys, nudge: nudge, colors: colors }
      },
      scales: {
        x: {
          type: 'linear', min: 1792.1, max: 2031,
          afterBuildTicks: s => { s.ticks = xTicks.map(v => ({ value: v })); },
          afterFit: s => { s.height = 39; },
          border: { display: false },
          grid: { drawOnChartArea: false, drawTicks: true, tickLength: 8, tickColor: '#666', lineWidth: 1.2 },
          ticks: { color: '#555', font: { family: 'Liberation Sans', size: 12 }, maxRotation: 0, padding: 8, autoSkip: false, callback: v => String(v) }
        },
        y: {
          min: -0.139, max: 6.4,
          afterBuildTicks: s => { s.ticks = yTicks.map(v => ({ value: v })); },
          afterFit: s => { s.width = 95; },
          border: { display: false },
          grid: { drawOnChartArea: false, drawTicks: true, tickLength: 8, tickColor: '#666', lineWidth: 1.2 },
          ticks: { color: '#555', font: { family: 'Liberation Sans', size: 12 }, minRotation: 90, maxRotation: 90, labelOffset: -3, padding: 12, autoSkip: false, callback: v => String(v) },
          title: { display: true, text: 'Tee Ring Width [mm]', color: '#555', font: { family: 'Liberation Sans', size: 12 }, padding: { top: 38, bottom: 0 } }
        }
      }
    }
  });
}

document.fonts.ready.then(() => {
  makePanel('chartA', droughtLabels, droughtX, droughtY, droughtNudge, droughtColors, '#f00000');
  makePanel('chartB', coldLabels, coldX, coldY, coldNudge, coldColors, '#00aeef');
});
</script>
</body>
</html>
